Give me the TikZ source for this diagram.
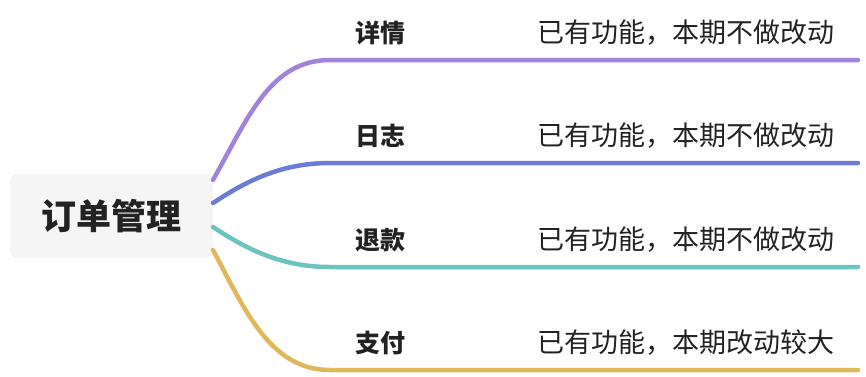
\documentclass[tikz,border=0pt]{standalone}
\usepackage{fontspec}
\newfontfamily\cjk{Noto Sans CJK SC}
\definecolor{cpurple}{RGB}{162,131,220}
\definecolor{cblue}{RGB}{106,124,214}
\definecolor{cteal}{RGB}{108,196,190}
\definecolor{cgold}{RGB}{222,184,90}
\definecolor{rootfill}{RGB}{245,245,245}
\definecolor{txt}{RGB}{34,34,34}
\tikzset{
  rootbox/.style={fill=rootfill, rounded corners=7pt, minimum width=203pt, minimum height=84pt, inner sep=0pt, font=\cjk\bfseries\fontsize{35}{40}\selectfont, text=txt},
  lbl/.style={anchor=west, inner sep=0pt, font=\cjk\bfseries\fontsize{25}{28}\selectfont, text=txt},
  desc/.style={anchor=west, inner sep=0pt, font=\cjk\fontsize{27}{30}\selectfont, text=txt},
  branch/.style={line width=4.5pt, line cap=round},
}
\begin{document}
\begin{tikzpicture}[x=1pt,y=-1pt]
\useasboundingbox (0,0) rectangle (866,376);
\node[rootbox] (root) at (111.5,216) {订单管理};
\coordinate (s1) at (213,180);
\coordinate (s2) at (213,203);
\coordinate (s3) at (213,227);
\coordinate (s4) at (213,250);
\coordinate (k1) at (330,60);  \coordinate (e1) at (858,60);
\coordinate (k2) at (330,163); \coordinate (e2) at (858,163);
\coordinate (k3) at (330,267); \coordinate (e3) at (858,267);
\coordinate (k4) at (330,370); \coordinate (e4) at (858,370);
\draw[branch, cpurple] (s1) .. controls (248,118) and (270,60) .. (k1) -- (e1);
\draw[branch, cblue] (s2) .. controls (245,182) and (280,163) .. (k2) -- (e2);
\draw[branch, cteal] (s3) .. controls (245,248) and (280,267) .. (k3) -- (e3);
\draw[branch, cgold] (s4) .. controls (245,310) and (270,370) .. (k4) -- (e4);
\node[lbl] (l1) at (355,33) {详情};
\node[lbl] (l2) at (355,136) {日志};
\node[lbl] (l3) at (355,240) {退款};
\node[lbl] (l4) at (355,343) {支付};
\node[desc] (d1) at (537,33) {已有功能，本期不做改动};
\node[desc] (d2) at (537,136) {已有功能，本期不做改动};
\node[desc] (d3) at (537,240) {已有功能，本期不做改动};
\node[desc] (d4) at (537,343) {已有功能，本期改动较大};
\end{tikzpicture}
\end{document}
